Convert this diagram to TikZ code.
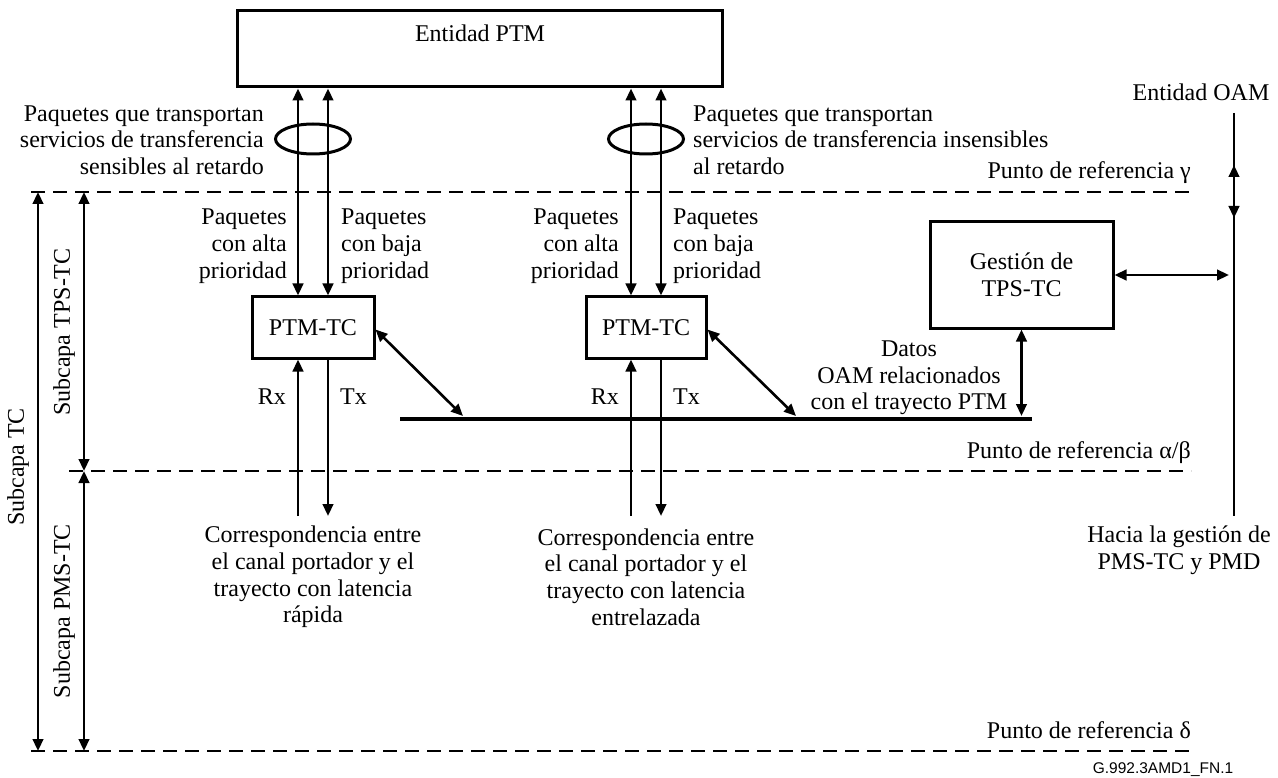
\documentclass[tikz,border=0pt]{standalone}
\usepackage{fontspec}
\setmainfont{Liberation Serif}
\newfontfamily\figsans{Liberation Sans}
\usetikzlibrary{arrows.meta,shapes.geometric}
\tikzset{
  txt/.style={inner sep=0pt, font=\fontsize{24}{26.7}\selectfont},
  box/.style={draw, line width=3pt, inner sep=0pt},
  ln/.style={line width=2.6pt},
  arr/.style={line width=2.6pt, -{Triangle[length=12pt,width=10.5pt]}},
  dbl/.style={line width=2.6pt, {Triangle[length=12pt,width=10.5pt]}-{Triangle[length=12pt,width=10.5pt]}},
  refline/.style={line width=2.6pt, dash pattern=on 14pt off 8pt},
  oval/.style={draw, ellipse, line width=3pt, minimum width=75pt, minimum height=30pt, inner sep=0pt},
}
\begin{document}
\begin{tikzpicture}[x=1pt,y=-1pt]
\useasboundingbox (0,0) rectangle (1278,778);
\fill[white] (0,0) rectangle (1278,778);

% boxes
\node[box, minimum width=485pt, minimum height=76pt] (ptm) at (479.5,49) {};
\node[txt] (ptmlbl) at (480,33) {Entidad PTM};
\node[box, minimum width=122pt, minimum height=61pt, txt] (tc1) at (313,327.5) {PTM-TC};
\node[box, minimum width=120pt, minimum height=61pt, txt] (tc2) at (646,327.5) {PTM-TC};
\node[box, minimum width=183pt, minimum height=106pt, txt, align=center] (gest) at (1021.5,275) {Gestión de\\TPS-TC};

% reference lines
\coordinate (gL) at (31,192);  \coordinate (gR) at (1191,192);
\coordinate (abL) at (69,471); \coordinate (abR) at (1191,471);
\coordinate (dL) at (31,751);  \coordinate (dR) at (1191,751);
\draw[refline] (gL) -- (gR);
\draw[refline] (abL) -- (abR);
\draw[refline] (dL) -- (dR);

% left layer arrows
\coordinate (o1) at (38,192); \coordinate (o2) at (38,751);
\coordinate (i1) at (84,192); \coordinate (i2) at (84,471); \coordinate (i3) at (84,751);
\draw[dbl] (o1) -- (o2);
\draw[dbl] (i1) -- (i2);
\draw[dbl] (i2) -- (i3);
\node[txt, rotate=90] (stc) at (18,467) {Subcapa TC};
\node[txt, rotate=90] (stps) at (64,332) {Subcapa TPS-TC};
\node[txt, rotate=90] (spms) at (64,611) {Subcapa PMS-TC};

% vertical arrows PTM <-> PTM-TC
\draw[dbl] ([xshift=-15pt]tc1.north) -- ([xshift=-15pt]tc1.north |- ptm.south);
\draw[dbl] ([xshift=15pt]tc1.north) -- ([xshift=15pt]tc1.north |- ptm.south);
\draw[dbl] ([xshift=-15pt]tc2.north) -- ([xshift=-15pt]tc2.north |- ptm.south);
\draw[dbl] ([xshift=15pt]tc2.north) -- ([xshift=15pt]tc2.north |- ptm.south);

% ellipses
\node[oval] (e1) at (313,139) {};
\node[oval] (e2) at (646,139) {};

% Rx / Tx
\coordinate (rx1) at (298,516); \coordinate (tx1) at (328,516);
\coordinate (rx2) at (631,516); \coordinate (tx2) at (661,516);
\draw[arr] (rx1) -- (rx1 |- tc1.south);
\draw[arr] (tx1 |- tc1.south) -- (tx1);
\draw[arr] (rx2) -- (rx2 |- tc2.south);
\draw[arr] (tx2 |- tc2.south) -- (tx2);
\node[txt, anchor=east] (rxl1) at (286,397) {Rx};
\node[txt, anchor=west] (txl1) at (340,397) {Tx};
\node[txt, anchor=east] (rxl2) at (619,397) {Rx};
\node[txt, anchor=west] (txl2) at (673,397) {Tx};

% bus
\coordinate (busL) at (400,419); \coordinate (busR) at (1032,419);
\draw[line width=4.5pt] (busL) -- (busR);
\coordinate (b1) at (463,416); \coordinate (b2) at (796,416);
\draw[dbl] ([yshift=-2pt]tc1.east) -- (b1);
\draw[dbl] ([yshift=-2pt]tc2.east) -- (b2);
\draw[dbl] (gest.south) -- (gest.south |- b1);

% OAM line
\coordinate (oamT) at (1234,113); \coordinate (oamB) at (1234,516);
\coordinate (oamU) at (1234,165); \coordinate (oamD) at (1234,218);
\draw[ln] (oamT) -- (oamB);
\draw[dbl] (oamU) -- (oamD);
\draw[dbl] (gest.east) -- ([xshift=-5pt]gest.east -| oamT);

% texts
\node[txt, align=right, anchor=east] (tl) at (264,140) {Paquetes que transportan\\servicios de transferencia\\sensibles al retardo};
\node[txt, align=left, anchor=west] (tr) at (693,140) {Paquetes que transportan\\servicios de transferencia insensibles\\al retardo};
\node[txt, align=right, anchor=east] (ha1) at (287,246) {Paquetes\\con alta\\prioridad};
\node[txt, align=left, anchor=west] (lb1) at (341,246) {Paquetes\\con baja\\prioridad};
\node[txt, align=right, anchor=east] (ha2) at (619,246) {Paquetes\\con alta\\prioridad};
\node[txt, align=left, anchor=west] (lb2) at (673,246) {Paquetes\\con baja\\prioridad};
\node[txt, align=center] (datos) at (909,378) {Datos\\OAM relacionados\\con el trayecto PTM};
\node[txt, align=center] (cor1) at (313,577) {Correspondencia entre\\el canal portador y el\\trayecto con latencia\\rápida};
\node[txt, align=center] (cor2) at (646,577) {Correspondencia entre\\el canal portador y el\\trayecto con latencia\\entrelazada};
\node[txt] (oam) at (1201,92) {Entidad OAM};
\node[txt, align=center] (hacia) at (1179,550) {Hacia la gestión de\\PMS-TC y PMD};
\node[txt, anchor=east] (rg) at (1191,173) {Punto de referencia γ};
\node[txt, anchor=east] (rab) at (1191,453) {Punto de referencia α/β};
\node[txt, anchor=east] (rd) at (1191,730) {Punto de referencia δ};
\node[inner sep=0pt, font=\figsans\fontsize{15.5}{17}\selectfont] (fig) at (1163,770) {G.992.3AMD1\_FN.1};
\end{tikzpicture}
\end{document}
